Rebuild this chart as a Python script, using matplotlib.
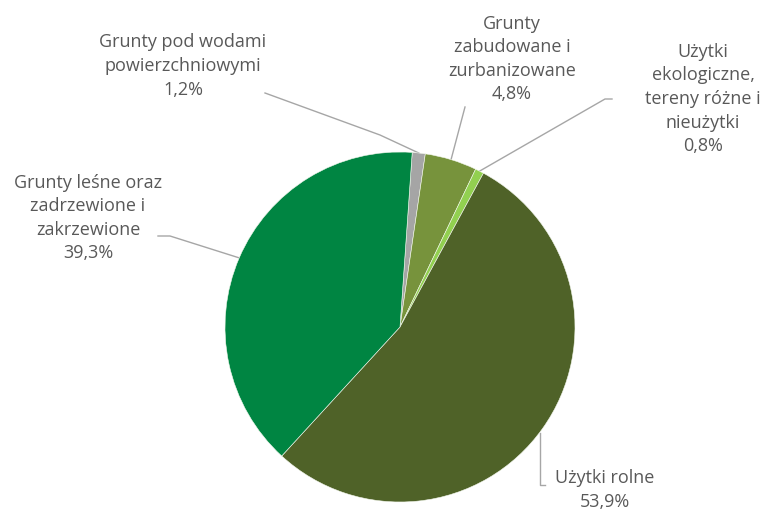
import numpy as np
import matplotlib.pyplot as plt

labels = ["Grunty pod wodami\npowierzchniowymi", "Grunty\nzabudowane i\nzurbanizowane",
          "Użytki\nekologiczne,\ntereny różne i\nnieużytki", "Użytki rolne",
          "Grunty leśne oraz\nzadrzewione i\nzakrzewione"]
values = [1.2, 4.8, 0.8, 53.9, 39.3]
colors = ["#a5a5a5", "#77933c", "#92d050", "#4f6228", "#008542"]

# label centre (px from top-left) and leader elbow points
label_pos = [(183, 66), (512, 59), (703, 99), (605, 490), (88, 218)]
leader_pts = [[(265, 93), (380, 135)],
              [(465, 107)],
              [(612, 99), (605, 99)],
              [(545, 485), (540, 485), (540, 433)],
              [(158, 236), (170, 236)]]

W, H = 762, 513
cx, cy, r = 400, 327, 175

plt.rcParams['font.family'] = ['Open Sans', 'DejaVu Sans']
fig = plt.figure(figsize=(W / 100, H / 100), dpi=100)
ax = fig.add_axes([0, 0, 1, 1])

wedges, _ = ax.pie(values, colors=colors, startangle=86, counterclock=False,
                   center=(cx, H - cy), radius=r, frame=True,
                   wedgeprops=dict(linewidth=0.4, edgecolor='#f4f8ee'))
ax.set_xlim(0, W)
ax.set_ylim(0, H)
ax.set_aspect('equal')
ax.axis('off')

for i, w in enumerate(wedges):
    pct = f"{values[i]:.1f}".replace('.', ',') + "%"
    lx, ly = label_pos[i]
    ax.text(lx, H - ly, labels[i] + "\n" + pct, ha='center', va='center',
            fontsize=13, color='#595959', linespacing=1.4)
    pts = [(x, H - y) for x, y in leader_pts[i]]
    if i != 3:
        # leader ends on the middle of the wedge's arc
        ang = np.deg2rad((w.theta1 + w.theta2) / 2)
        pts.append((cx + r * np.cos(ang), H - cy + r * np.sin(ang)))
    xs, ys = zip(*pts)
    ax.plot(xs, ys, color='#a6a6a6', lw=1, zorder=0)

fig.savefig("out.png", dpi=100)
